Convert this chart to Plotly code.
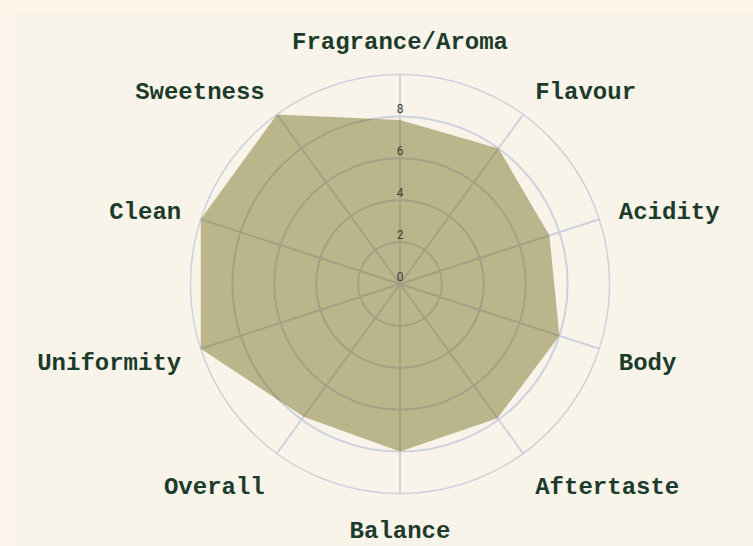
import plotly.graph_objects as go

categories = ["Fragrance/Aroma", "Flavour", "Acidity", "Body", "Aftertaste",
              "Balance", "Overall", "Uniformity", "Clean", "Sweetness"]
scores = [7.83, 8.0, 7.5, 8.0, 7.92, 8.0, 7.83, 10.0, 10.0, 10.0]
tick_values = [0, 2, 4, 6, 8]
tick_labels = ["0", "2", "4", "6", "8"]

W, H = 753, 546
cx, cy, R = 400, 284, 209.5

fig = go.Figure()
fig.add_trace(go.Scatterpolar(
    r=scores + [scores[0]],
    theta=categories + [categories[0]],
    mode="lines",
    fill="toself",
    fillcolor="rgba(100,93,10,0.42)",
    line=dict(color="rgba(0,0,0,0)", width=0),
    hoverinfo="r+theta",
    showlegend=False,
))
fig.add_trace(go.Scatterpolar(
    r=tick_values,
    theta=[categories[0]] * len(tick_values),
    mode="text",
    text=tick_labels,
    textposition="top center",
    textfont=dict(family="Roboto, sans-serif", size=12, color="#3e3e38"),
    hoverinfo="skip",
    showlegend=False,
))

grid = "#cdd2dc"
fig.update_layout(
    width=W, height=H,
    margin=dict(l=0, r=0, t=0, b=0),
    paper_bgcolor="#fdf4ea",
    showlegend=False,
    shapes=[dict(type="rect", xref="paper", yref="paper",
                 x0=12 / W, x1=1, y0=0, y1=1 - 13 / H,
                 fillcolor="#f8f4e9", line=dict(width=0), layer="below")],
    polar=dict(
        domain=dict(x=[(cx - R) / W, (cx + R) / W],
                    y=[1 - (cy + R) / H, 1 - (cy - R) / H]),
        bgcolor="rgba(0,0,0,0)",
        radialaxis=dict(
            range=[0, 10], tickvals=tick_values, showticklabels=False,
            ticks="", showline=False, gridcolor=grid, gridwidth=1.5,
            layer="below traces",
        ),
        angularaxis=dict(
            direction="clockwise", rotation=90,
            gridcolor=grid, gridwidth=1.5,
            showline=True, linecolor=grid, linewidth=1.5,
            ticks="outside", ticklen=15, tickcolor="rgba(0,0,0,0)",
            tickfont=dict(family="Liberation Mono, Courier New, monospace",
                          size=24, color="#1d3b2c", weight="bold"),
            layer="below traces",
        ),
    ),
)

fig.write_html("out.html", config={"displayModeBar": False},
               post_script="document.body.style.margin='0';")
